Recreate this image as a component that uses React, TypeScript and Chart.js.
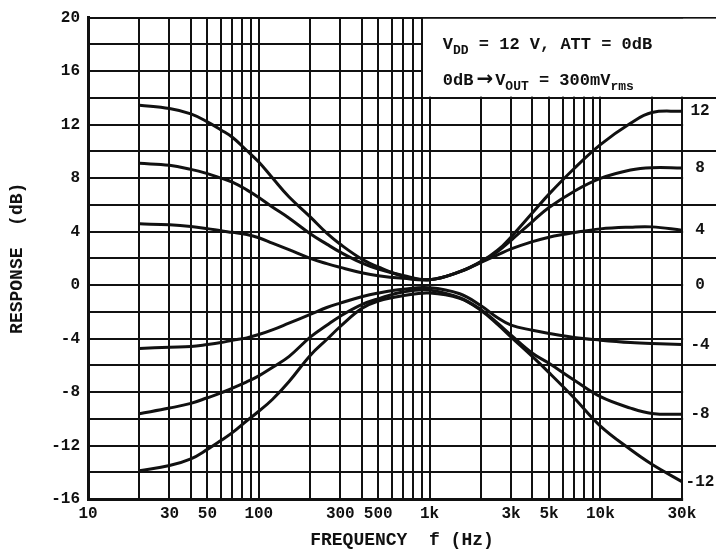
import React, { useEffect, useRef } from 'react';
import { Chart, registerables } from 'chart.js';

Chart.register(...registerables);

// ---- data ----
const FREQ_HZ = [20, 30, 40, 50, 60, 70, 85, 100, 120, 150, 200, 250, 300, 400, 500, 700, 1000, 1500, 2000, 2500, 3000, 4000, 5000, 7000, 10000, 15000, 20000, 30000];

const CURVE_P12 = [13.45, 13.2, 12.8, 12.2, 11.6, 11.05, 10.06, 9.2, 8.02, 6.6, 5.1, 3.88, 3.05, 1.95, 1.35, 0.66, 0.4, 1.0, 1.75, 2.6, 3.6, 5.4, 6.8, 8.7, 10.5, 12.1, 12.9, 13.0];
const CURVE_P8 = [9.1, 8.95, 8.65, 8.33, 8.0, 7.7, 7.12, 6.55, 5.84, 5.02, 3.84, 3.06, 2.46, 1.66, 1.2, 0.72, 0.4, 1.0, 1.75, 2.5, 3.35, 4.75, 5.8, 7.0, 7.97, 8.6, 8.78, 8.76];
const CURVE_P4 = [4.58, 4.5, 4.38, 4.22, 4.06, 3.94, 3.78, 3.54, 3.14, 2.65, 2.0, 1.6, 1.32, 0.92, 0.69, 0.5, 0.4, 0.98, 1.7, 2.25, 2.7, 3.25, 3.58, 3.92, 4.2, 4.33, 4.35, 4.1];
const CURVE_0 = [0, 0, 0, 0, 0, 0, 0, 0, 0, 0, 0, 0, 0, 0, 0, 0, 0, 0, 0, 0, 0, 0, 0, 0, 0, 0, 0, 0];
const CURVE_M4 = [-4.75, -4.65, -4.6, -4.45, -4.3, -4.13, -3.95, -3.7, -3.35, -2.85, -2.2, -1.68, -1.35, -0.87, -0.6, -0.32, -0.2, -0.65, -1.55, -2.45, -3.0, -3.38, -3.62, -3.92, -4.12, -4.3, -4.38, -4.45];
const CURVE_M8 = [-9.62, -9.2, -8.85, -8.43, -8.07, -7.71, -7.24, -6.79, -6.16, -5.35, -3.9, -3.01, -2.33, -1.47, -1.03, -0.52, -0.38, -0.95, -1.85, -2.85, -3.75, -5.1, -5.85, -7.1, -8.35, -9.2, -9.6, -9.67];
const CURVE_M12 = [-13.88, -13.5, -13.0, -12.29, -11.63, -11.04, -10.15, -9.44, -8.56, -7.23, -5.26, -4.07, -3.1, -1.76, -1.19, -0.79, -0.6, -1.0, -1.9, -2.95, -3.9, -5.36, -6.55, -8.43, -10.55, -12.3, -13.4, -14.7];

const CURVES = [CURVE_P12, CURVE_P8, CURVE_P4, CURVE_0, CURVE_M4, CURVE_M8, CURVE_M12];
const CURVE_LABELS = ['12', '8', '4', '0', '-4', '-8', '-12'];

const X_GRID_HZ = [10, 20, 30, 40, 50, 60, 70, 80, 90, 100, 200, 300, 400, 500, 600, 700, 800, 900, 1000, 2000, 3000, 4000, 5000, 6000, 7000, 8000, 9000, 10000, 20000, 30000];
const X_LABEL_HZ = [10, 30, 50, 100, 300, 500, 1000, 3000, 5000, 10000, 30000];
const X_LABEL_TEXT = ['10', '30', '50', '100', '300', '500', '1k', '3k', '5k', '10k', '30k'];

const Y_MIN = -16;
const Y_MAX = 20;
const Y_STEP = 2;
const Y_LABEL_STEP = 4;

const X_MIN = 10;
const X_MAX = 47500;
const X_LAST_HZ = 30000;
const BOX_LEFT_HZ = 900;
const BOX_BOTTOM_DB = 14;
const RIGHT_COLUMN_LINES_DB = [14, 10, 6, 2, -2, -6, -12];

const INK = '#111';
const FONT_FAMILY = '"Liberation Mono", "DejaVu Sans Mono", monospace';

type Part = [string, 'main' | 'sub' | 'sym'];

function drawRich(ctx: CanvasRenderingContext2D, parts: Part[], x: number, y: number) {
  let cx = x;
  for (const [text, kind] of parts) {
    if (kind === 'sym') {
      ctx.font = 'bold 20px "DejaVu Sans", sans-serif';
      cx += 3;
      ctx.fillText(text, cx, y);
      cx += ctx.measureText(text).width + 2;
      continue;
    }
    ctx.font = kind === 'sub' ? `bold 13px ${FONT_FAMILY}` : `bold 17px ${FONT_FAMILY}`;
    ctx.fillText(text, cx, kind === 'sub' ? y + 5 : y);
    cx += ctx.measureText(text).width;
  }
}

const decorPlugin = {
  id: 'decor',
  beforeDatasetsDraw(chart: any) {
    const { ctx, chartArea, scales } = chart;
    const x = scales.x;
    const y = scales.y;
    const W = chart.width;
    const xLast = x.getPixelForValue(X_LAST_HZ);
    const xBox = x.getPixelForValue(BOX_LEFT_HZ);
    const yTop = y.getPixelForValue(Y_MAX);
    const yBox = y.getPixelForValue(BOX_BOTTOM_DB);
    ctx.save();
    ctx.fillStyle = '#fff';
    ctx.fillRect(xLast + 1.2, yTop + 1.2, W - xLast, chartArea.bottom + 2 - yTop - 1.2);
    ctx.fillRect(xBox + 1.2, yTop + 1.2, W - xBox, yBox - yTop - 2.4);
    ctx.strokeStyle = INK;
    ctx.lineWidth = 2;
    for (const v of RIGHT_COLUMN_LINES_DB) {
      const yy = Math.round(y.getPixelForValue(v));
      ctx.beginPath();
      ctx.moveTo(xLast, yy);
      ctx.lineTo(W, yy);
      ctx.stroke();
    }
    ctx.restore();
  },
  afterDatasetsDraw(chart: any) {
    const { ctx, scales } = chart;
    const x = scales.x;
    const y = scales.y;
    const W = chart.width;
    const xBox = x.getPixelForValue(BOX_LEFT_HZ);
    const yTop = y.getPixelForValue(Y_MAX);
    ctx.save();
    ctx.fillStyle = INK;
    ctx.textAlign = 'left';
    ctx.textBaseline = 'alphabetic';
    drawRich(ctx, [['V', 'main'], ['DD', 'sub'], [' = 12 V, ATT = 0dB', 'main']], xBox + 21, yTop + 31);
    drawRich(ctx, [['0dB', 'main'], ['\u2192', 'sym'], ['V', 'main'], ['OUT', 'sub'], [' = 300mV', 'main'], ['rms', 'sub']], xBox + 21, yTop + 67);
    ctx.font = `bold 16px ${FONT_FAMILY}`;
    ctx.textAlign = 'center';
    ctx.textBaseline = 'middle';
    CURVES.forEach((c, i) => {
      ctx.fillText(CURVE_LABELS[i], W - 16, y.getPixelForValue(c[c.length - 1]));
    });
    ctx.restore();
  },
};

export default function App() {
  const ref = useRef<HTMLCanvasElement>(null);
  useEffect(() => {
    document.body.style.margin = '0';
    const canvas = ref.current!;
    const datasets = CURVES.map((c, i) => ({
      label: CURVE_LABELS[i],
      data: FREQ_HZ.map((f, j) => ({ x: f, y: c[j] })),
      borderColor: INK,
      borderWidth: i === 3 ? 2 : 3,
      pointRadius: 0,
      fill: false,
      tension: 0.4,
    }));
    const chart = new Chart(canvas, {
      type: 'line',
      data: { datasets },
      options: {
        responsive: false,
        animation: false,
        devicePixelRatio: 1,
        layout: { padding: { top: 11, right: 0, bottom: 0, left: 0 } },
        plugins: { legend: { display: false }, tooltip: { enabled: false } },
        scales: {
          x: {
            type: 'logarithmic',
            min: X_MIN,
            max: X_MAX,
            afterBuildTicks: (s: any) => {
              s.ticks = X_GRID_HZ.map((v) => ({ value: v }));
            },
            afterFit: (s: any) => {
              s.height = 56;
            },
            grid: { color: INK, lineWidth: 2, drawTicks: false },
            border: { display: false },
            ticks: {
              autoSkip: false,
              maxRotation: 0,
              minRotation: 0,
              padding: 5,
              color: INK,
              font: { family: FONT_FAMILY, size: 16, weight: 'bold' },
              callback: (v: any) => {
                const k = X_LABEL_HZ.indexOf(Number(v));
                return k >= 0 ? X_LABEL_TEXT[k] : '';
              },
            },
            title: {
              display: true,
              text: 'FREQUENCY  f (Hz)',
              color: INK,
              padding: { top: 0, bottom: 4 },
              font: { family: FONT_FAMILY, size: 18, weight: 'bold' },
            },
          },
          y: {
            type: 'linear',
            min: Y_MIN,
            max: Y_MAX,
            afterFit: (s: any) => {
              s.width = 88;
            },
            grid: {
              color: INK,
              lineWidth: (c: any) => (c.tick && c.tick.value === Y_MIN ? 3 : 2),
              drawTicks: false,
            },
            border: { display: true, color: INK, width: 3 },
            ticks: {
              stepSize: Y_STEP,
              autoSkip: false,
              padding: 8,
              color: INK,
              font: { family: FONT_FAMILY, size: 16, weight: 'bold' },
              callback: (v: any) => (Number(v) % Y_LABEL_STEP === 0 ? String(v) : ''),
            },
            title: {
              display: true,
              text: 'RESPONSE  (dB)',
              color: INK,
              padding: { top: 7, bottom: 0 },
              font: { family: FONT_FAMILY, size: 18, weight: 'bold' },
            },
          },
        },
      } as any,
      plugins: [decorPlugin],
    });
    return () => chart.destroy();
  }, []);
  return <canvas ref={ref} width={716} height={555} style={{ display: 'block' }} />;
}
